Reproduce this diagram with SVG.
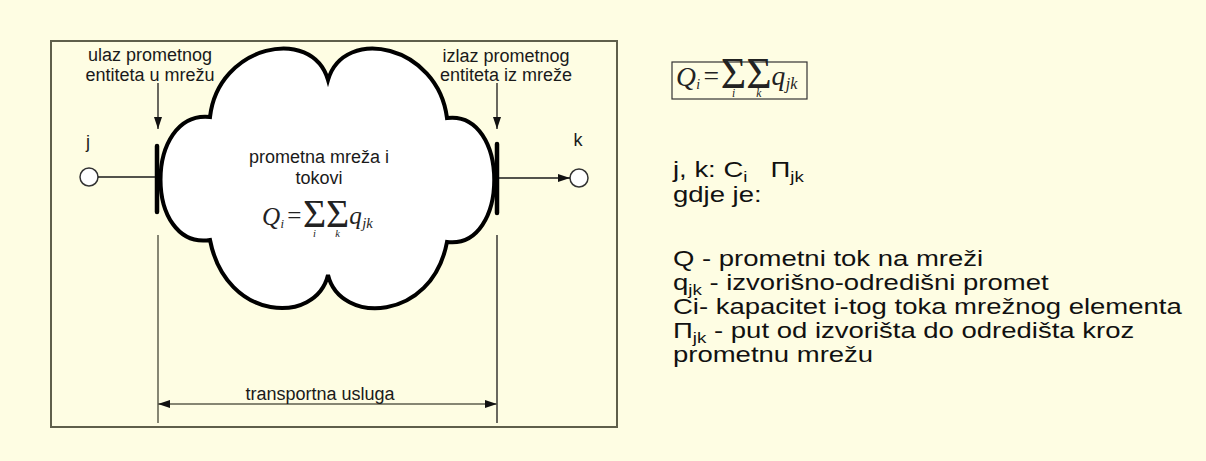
<svg xmlns="http://www.w3.org/2000/svg" width="1206" height="461" viewBox="0 0 1206 461">
<style>
.t{font-family:"Liberation Sans",Arial,sans-serif;fill:#1a1a1a}
.s18{font-size:18px}
.m{font-family:"Liberation Serif","Times New Roman",serif;fill:#222}
.it{font-style:italic}
.r{font-family:"Liberation Sans",Arial,sans-serif;font-size:22px;fill:#111}
.sub{font-size:15px}
.ln{stroke:#1a1a1a;stroke-width:1.3;fill:none}
.dim{stroke:#5e5e4e;stroke-width:1.5;fill:none}
.bar{stroke:#000;stroke-width:4.5;stroke-linecap:round}
</style>
<defs>
<marker id="ah" viewBox="0 0 12 8" refX="12" refY="4" markerWidth="12" markerHeight="8" markerUnits="userSpaceOnUse" orient="auto-start-reverse">
<path d="M0,0 L12,4 L0,8 z" fill="#111"/>
</marker>
</defs>
<rect x="0" y="0" width="1206" height="461" fill="#FEFDE3"/>
<rect id="frame" x="51" y="41" width="566" height="386" fill="none" stroke="#5f5f4b" stroke-width="2"/>

<g id="cloud">
<path d="M210,117 C218,45 312,25 328,80 C344,25 438,45 447,118 C510,110 510,250 447,242 C432,322 340,325 328,275 C316,325 226,322 210,240 C144,250 144,110 210,117 Z" fill="#fff" stroke="#000" stroke-width="4" stroke-linejoin="miter"/>
<text class="t s18" x="319" y="163" text-anchor="middle">prometna mreža i</text>
<text class="t s18" x="319" y="184" text-anchor="middle">tokovi</text>
<g transform="translate(262,225) scale(1.05)" style="fill:#444">
<text class="m it" x="0" y="0" font-size="24">Q</text>
<text class="m it" x="17.5" y="3" font-size="12">i</text>
<text class="m" x="24" y="-1" font-size="24">=</text>
<text class="m" x="39" y="2" font-size="38">Σ</text>
<text class="m" x="61" y="2" font-size="38">Σ</text>
<text class="m it" x="50" y="11" font-size="10" text-anchor="middle">i</text>
<text class="m it" x="72" y="11" font-size="10" text-anchor="middle">k</text>
<text class="m it" x="83" y="-1" font-size="24">q</text>
<text class="m it" x="95.5" y="3" font-size="14">jk</text>
</g>
</g>

<g id="entry">
<line class="bar" x1="157" y1="146" x2="157" y2="212"/>
<text class="t s18" x="150" y="61" text-anchor="middle">ulaz prometnog</text>
<text class="t s18" x="150" y="81" text-anchor="middle">entiteta u mrežu</text>
</g>
<g id="exit">
<line class="bar" x1="497" y1="144" x2="497" y2="213"/>
<text class="t s18" x="506" y="62" text-anchor="middle">izlaz prometnog</text>
<text class="t s18" x="506" y="81" text-anchor="middle">entiteta iz mreže</text>
</g>
<g id="node-j">
<circle cx="89" cy="177" r="9" fill="#fff" stroke="#333" stroke-width="1.5"/>
<text class="t" x="88" y="148" font-size="18" text-anchor="middle">j</text>
</g>
<g id="node-k">
<circle cx="579" cy="178" r="9" fill="#fff" stroke="#333" stroke-width="1.5"/>
<text class="t" x="578" y="146" font-size="18" text-anchor="middle">k</text>
</g>

<g id="connectors">
<line class="ln" x1="98" y1="177" x2="155" y2="177"/>
<line class="ln" x1="499" y1="178" x2="570" y2="178" marker-end="url(#ah)"/>
<line class="ln" x1="158" y1="83" x2="158" y2="129" marker-end="url(#ah)"/>
<line class="ln" x1="497" y1="83" x2="497" y2="129" marker-end="url(#ah)"/>
<line class="dim" x1="158" y1="235" x2="158" y2="423"/>
<line class="ln" x1="497" y1="235" x2="497" y2="423"/>
<line class="dim" x1="158" y1="404" x2="497" y2="404" marker-start="url(#ah)" marker-end="url(#ah)"/>
</g>
<g id="dim-label">
<text class="t s18" x="320" y="400" text-anchor="middle">transportna usluga</text>
</g>

<g id="formula-box">
<rect x="672" y="62" width="135" height="37" fill="none" stroke="#333" stroke-width="1.2"/>
<g transform="translate(676,86) scale(1.15)">
<text class="m it" x="0" y="0" font-size="24">Q</text>
<text class="m it" x="17.5" y="3" font-size="12">i</text>
<text class="m" x="24" y="-1" font-size="24">=</text>
<text class="m" x="39" y="2" font-size="38">Σ</text>
<text class="m" x="61" y="2" font-size="38">Σ</text>
<text class="m it" x="50" y="9.5" font-size="10" text-anchor="middle">i</text>
<text class="m it" x="72" y="9.5" font-size="10" text-anchor="middle">k</text>
<text class="m it" x="83" y="-1" font-size="24">q</text>
<text class="m it" x="95.5" y="3" font-size="14">jk</text>
</g>
</g>

<g id="legend" transform="translate(673,0) scale(1.25,1)">
<text class="r" y="177"><tspan x="0">j, k: C</tspan><tspan class="sub" dy="5">i</tspan><tspan x="78" dy="-5">Π</tspan><tspan class="sub" dy="5">jk</tspan></text>
<text class="r" x="0" y="202">gdje je:</text>
<text class="r" x="0" y="266">Q - prometni tok na mreži</text>
<text class="r" y="290"><tspan x="0">q</tspan><tspan class="sub" dy="5">jk</tspan><tspan dy="-5"> - izvorišno-odredišni promet</tspan></text>
<text class="r" x="0" y="314">Ci- kapacitet i-tog toka mrežnog elementa</text>
<text class="r" y="338"><tspan x="0">Π</tspan><tspan class="sub" dy="5">jk</tspan><tspan dy="-5"> - put od izvorišta do odredišta kroz</tspan></text>
<text class="r" x="0" y="362">prometnu mrežu</text>
</g>
</svg>
